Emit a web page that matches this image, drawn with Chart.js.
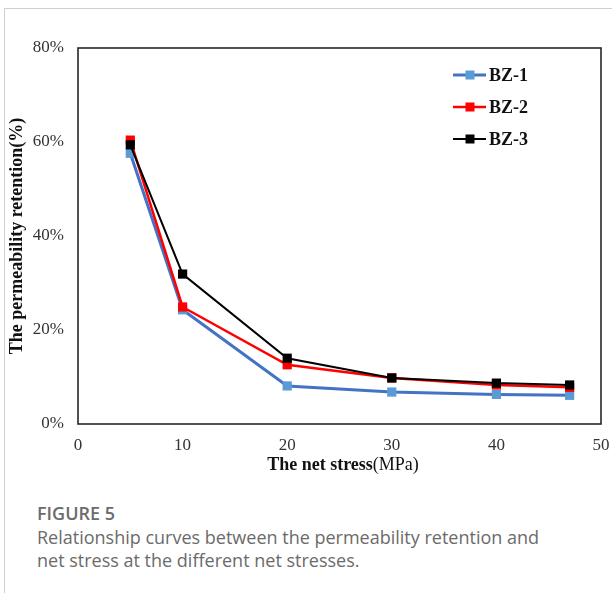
<!DOCTYPE html>
<html>
<head>
<meta charset="utf-8">
<script src="https://cdn.jsdelivr.net/npm/chart.js@4.4.1/dist/chart.umd.min.js"></script>
<style>
  html, body { margin: 0; padding: 0; background: #fff; }
  body { width: 612px; height: 593px; position: relative; overflow: hidden; }
  #frame { position: absolute; left: 4px; top: 8px; right: -2px; bottom: -2px; border-left: 1px solid #d0d0d0; border-top: 1px solid #d0d0d0; }
  #wrap { position: absolute; left: 0; top: 0; width: 612px; height: 480px; }
  #caption { position: absolute; left: 37px; top: 502px; width: 525px; font-family: "Open Sans", sans-serif; color: #6b6b6b; font-size: 18px; line-height: 23.5px; }
  #caption .fig { font-weight: 600; font-size: 18px; }
</style>
</head>
<body>
<div id="frame"></div>
<div id="wrap"><canvas id="c" width="612" height="480"></canvas></div>
<div id="caption"><div class="fig">FIGURE 5</div>Relationship curves between the permeability retention and net stress at the different net stresses.</div>
<script>
const netStress = [5, 10, 20, 30, 40, 47];
const bz1 = [57.6, 24.3, 8.1, 6.8, 6.3, 6.1];
const bz2 = [60.4, 24.9, 12.6, 9.8, 8.3, 7.8];
const bz3 = [59.4, 31.9, 14.0, 9.8, 8.7, 8.3];
const seriesNames = ['BZ-1', 'BZ-2', 'BZ-3'];
const xTicks = [0, 10, 20, 30, 40, 50];
const yTicks = [0, 20, 40, 60, 80];

const serif = '"Liberation Serif", "Times New Roman", serif';

function pts(ys) { return netStress.map((x, i) => ({ x: x, y: ys[i] })); }

const styles = [
  { line: '#4472C4', fill: '#5B9BD5', width: 3 },
  { line: '#FF0000', fill: '#FF0000', width: 2.5 },
  { line: '#000000', fill: '#000000', width: 2 }
];
const allData = [bz1, bz2, bz3];

const datasets = allData.map((d, i) => ({
  label: seriesNames[i],
  data: pts(d),
  borderColor: styles[i].line,
  backgroundColor: styles[i].fill,
  borderWidth: styles[i].width,
  pointStyle: 'rect',
  pointRadius: 6.5,
  pointBorderWidth: 0,
  pointBackgroundColor: styles[i].fill,
  tension: 0,
  order: 2 - i
}));

const boxPlugin = {
  id: 'box',
  afterDraw(chart) {
    const { ctx, chartArea: a } = chart;
    ctx.save();
    ctx.strokeStyle = '#262626';
    ctx.lineWidth = 1.6;
    ctx.strokeRect(a.left, a.top, a.right - a.left, a.bottom - a.top);
    // legend
    const lx0 = 453, lx1 = 486, mx = 470, tx = 489;
    const ys = [75, 107, 139];
    ctx.font = 'bold 18px ' + serif;
    ctx.textBaseline = 'middle';
    ctx.textAlign = 'left';
    chart.data.datasets.forEach((ds, i) => {
      const y = ys[i];
      ctx.strokeStyle = ds.borderColor;
      ctx.lineWidth = ds.borderWidth;
      ctx.beginPath(); ctx.moveTo(lx0, y); ctx.lineTo(lx1, y); ctx.stroke();
      ctx.fillStyle = ds.pointBackgroundColor;
      ctx.fillRect(mx - 4.5, y - 4.5, 9, 9);
      ctx.fillStyle = '#111';
      ctx.fillText(ds.label, tx, y + 1);
    });
    // x title: bold + regular parts
    const p1 = 'The net stress', p2 = '(MPa)';
    ctx.font = 'bold 18px ' + serif;
    const w1 = ctx.measureText(p1).width;
    ctx.font = '18px ' + serif;
    const w2 = ctx.measureText(p2).width;
    const cx = 343;
    let sx = cx - (w1 + w2) / 2;
    ctx.fillStyle = '#111';
    ctx.textBaseline = 'middle';
    ctx.font = 'bold 18px ' + serif;
    ctx.fillText(p1, sx, 465);
    ctx.font = '18px ' + serif;
    ctx.fillText(p2, sx + w1, 465);
    ctx.restore();
  }
};

new Chart(document.getElementById('c'), {
  type: 'line',
  data: { datasets: datasets },
  options: {
    responsive: false,
    animation: false,
    layout: { padding: { left: 0, right: 11, top: 48, bottom: 0 } },
    plugins: { legend: { display: false }, tooltip: { enabled: false } },
    scales: {
      x: {
        type: 'linear', min: 0, max: 50,
        afterBuildTicks: s => { s.ticks = xTicks.map(v => ({ value: v })); },
        afterFit: s => { s.height = 56; s.paddingLeft = 0; s.paddingRight = 0; },
        grid: { display: false, drawTicks: false },
        border: { display: false },
        ticks: { color: '#333', font: { family: serif, size: 17 }, padding: 11 }
      },
      y: {
        type: 'linear', min: 0, max: 80,
        afterBuildTicks: s => { s.ticks = yTicks.map(v => ({ value: v })); },
        afterFit: s => { s.width = 78; s.paddingTop = 0; s.paddingBottom = 0; },
        grid: { display: false, drawTicks: false },
        border: { display: false },
        ticks: { color: '#333', font: { family: serif, size: 17 }, padding: 14, callback: v => v + '%' },
        title: { display: true, text: 'The permeability retention(%)', color: '#111', font: { family: serif, size: 18, weight: 'bold' }, padding: { top: 7, bottom: 0 } }
      }
    }
  },
  plugins: [boxPlugin]
});
</script>
</body>
</html>
